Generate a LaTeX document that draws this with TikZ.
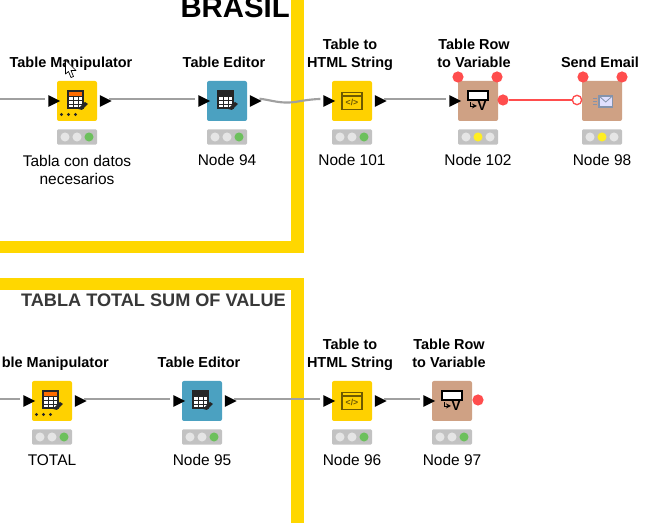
\documentclass[tikz,border=0pt]{standalone}
\usepackage{fontspec}
\setmainfont{Liberation Sans}
\usetikzlibrary{shapes.geometric,positioning}
\definecolor{frameyellow}{HTML}{FFD700}
\definecolor{manipyellow}{HTML}{FFD100}
\definecolor{editorblue}{HTML}{4BA1C1}
\definecolor{varbrown}{HTML}{CFA184}
\definecolor{flowred}{HTML}{FF4D4D}
\definecolor{wiregray}{HTML}{A0A0A0}
\definecolor{lightgreen}{HTML}{6CC05C}
\definecolor{lightyellow}{HTML}{FFEE22}
\definecolor{htmlgold}{HTML}{6E5A00}
\definecolor{mailblue}{HTML}{8493AC}
% traffic light bar under a node: name, x, y, three colours
\newcommand{\statusbar}[6]{
    \node[statusbox] (#1) at (#2,#3) {};
    \node[lamp, fill=#4] (#1a) at (#2-12,#3) {};
    \node[lamp, fill=#5] (#1b) at (#2,#3) {};
    \node[lamp, fill=#6] (#1c) at (#2+12,#3) {};
}
% table glyph with pen, centred on x,y
\newcommand{\tableglyph}[3]{
    \fill[white] (#1-7,#2-9) rectangle (#1+8,#2+8);
    \fill[#3] (#1-7,#2-9) rectangle (#1+8,#2-4);
    \draw[black!85, line width=0.8pt] (#1-7,#2-9) rectangle (#1+8,#2+8);
    \draw[black!85, line width=0.3pt] (#1-7,#2-4) -- (#1+8,#2-4) (#1-7,#2) -- (#1+8,#2) (#1-7,#2+4) -- (#1+8,#2+4)
        (#1-2,#2-4) -- (#1-2,#2+8) (#1+3,#2-4) -- (#1+3,#2+8);
    \fill[black!85] (#1+3,#2+9) -- (#1+10,#2+2) -- (#1+13,#2+4) -- (#1+7,#2+10) -- cycle;
}
% window glyph with a code tag
\newcommand{\htmlglyph}[2]{
    \draw[htmlgold, line width=0.8pt] (#1-10,#2-8.5) rectangle (#1+10,#2+8.5);
    \draw[htmlgold, line width=0.8pt] (#1-10,#2-5) -- (#1+10,#2-5);
    \node[font=\fontsize{6.5}{6.5}\selectfont\bfseries, text=htmlgold, inner sep=0pt] at (#1,#2+1.5) {</>};
}
% row to variable glyph
\newcommand{\rowvarglyph}[2]{
    \draw[black, fill=white, line width=0.9pt] (#1-10,#2-8) rectangle (#1+10,#2+1);
    \draw[black, line width=0.7pt, ->, >=stealth] (#1-8,#2+3) -- (#1-8,#2+7) -- (#1-1,#2+7);
    \node[font=\fontsize{10}{10}\selectfont\bfseries, inner sep=0pt] at (#1+4,#2+6.5) {V};
}

\begin{document}
\begin{tikzpicture}[
    x=0.75pt, y=-0.75pt,
    nodebox/.style={rectangle, rounded corners=1.5pt, minimum size=30pt, inner sep=0pt},
    statusbox/.style={rectangle, rounded corners=1pt, fill=black!24, minimum width=30pt, minimum height=11.5pt, inner sep=0pt},
    lamp/.style={circle, minimum size=6.8pt, inner sep=0pt},
    inport/.style={isosceles triangle, isosceles triangle apex angle=60, isosceles triangle stretches, fill=black, minimum width=8.8pt, minimum height=8.8pt, inner sep=0pt},
    flowport/.style={circle, fill=flowred, minimum size=8.4pt, inner sep=0pt},
    wire/.style={wiregray, line width=1.6pt, shorten >=2pt, shorten <=-2pt},
    title/.style={font=\fontsize{10.85}{14.2}\selectfont\bfseries, align=center, anchor=base, inner sep=0pt},
    caption/.style={font=\fontsize{11.6}{14.2}\selectfont, align=center, anchor=base, inner sep=0pt}
]
    \useasboundingbox (0,0) rectangle (668,523);
    \fill[white] (0,0) rectangle (668,523);

    % yellow frames
    \fill[frameyellow] (0,241) rectangle (304,253);
    \fill[frameyellow] (291,0) rectangle (304,253);
    \fill[frameyellow] (0,278) rectangle (304,290);
    \fill[frameyellow] (291,278) rectangle (304,523);

    \node[font=\fontsize{22}{22}\selectfont\bfseries, anchor=base east, inner sep=0pt] (brasil) at (290,18) {BRASIL};
    \node[font=\fontsize{13.6}{14}\selectfont\bfseries, text=black!78, anchor=base east, inner sep=0pt] (tablatotal) at (286,307) {TABLA TOTAL SUM OF VALUE};

    % top row
    \node[nodebox, fill=manipyellow] (manip1) at (77,101) {};
    \node[nodebox, fill=editorblue] (editor1) at (227,101) {};
    \node[nodebox, fill=manipyellow] (html1) at (352,101) {};
    \node[nodebox, fill=varbrown] (rowvar1) at (478,101) {};
    \node[nodebox, fill=varbrown] (email1) at (602,101) {};

    % bottom row
    \node[nodebox, fill=manipyellow] (manip2) at (52,401) {};
    \node[nodebox, fill=editorblue] (editor2) at (202,401) {};
    \node[nodebox, fill=manipyellow] (html2) at (352,401) {};
    \node[nodebox, fill=varbrown] (rowvar2) at (452,401) {};

    % ports
    \foreach \name/\x/\y in {manip1/77/101, editor1/227/101, html1/352/101, manip2/52/401, editor2/202/401, html2/352/401} {
        \node[inport] (\name in) at (\x-25,\y) {};
        \node[inport] (\name out) at (\x+26.5,\y) {};
    }
    \node[inport] (rowvar1in) at (453,101) {};
    \node[inport] (rowvar2in) at (427,401) {};

    \coordinate (stub1) at (0,99);
    \coordinate (stub2) at (0,399);
    \draw[wire, shorten <=0pt] (stub1) -- (manip1in.west |- stub1);
    \draw[wire] (manip1out.east |- stub1) -- (editor1in.west |- stub1);
    \draw[wire] (editor1out.east |- stub1) .. controls (271,100) and (280,104) .. (295,102) .. controls (306,100) and (315,99) .. (html1in.west |- stub1);
    \draw[wire] (html1out.east |- stub1) -- (rowvar1in.west |- stub1);
    \draw[wire, shorten <=0pt] (stub2) -- (manip2in.west |- stub2);
    \draw[wire] (manip2out.east |- stub2) -- (editor2in.west |- stub2);
    \draw[wire] (editor2out.east |- stub2) -- (html2in.west |- stub2);
    \draw[wire] (html2out.east |- stub2) -- (rowvar2in.west |- stub2);

    % flow variable ports
    \node[flowport] (rowvar1a) at (458,77) {};
    \node[flowport] (rowvar1b) at (497,77) {};
    \node[flowport] (rowvar1out) at (503,100) {};
    \node[flowport] (email1a) at (583,77) {};
    \node[flowport] (email1b) at (622,77) {};
    \node[flowport] (rowvar2out) at (478,400) {};
    \node[circle, draw=flowred, fill=white, line width=1pt, minimum size=7pt, inner sep=0pt] (email1in) at (577,100) {};
    \draw[flowred, line width=1.5pt] (rowvar1out) -- (email1in);

    % icons
    \tableglyph{75}{100}{orange!85!red}
    \foreach \i in {61.5,68.5,75.5} \fill[black!85] (\i,114.5) circle (1.7);
    \tableglyph{225}{100}{black!85}
    \htmlglyph{352}{101}
    \rowvarglyph{478}{99}
    \tableglyph{50}{400}{orange!85!red}
    \foreach \i in {36.5,43.5,50.5} \fill[black!85] (\i,414.5) circle (1.7);
    \tableglyph{200}{400}{black!85}
    \htmlglyph{352}{401}
    \rowvarglyph{452}{399}
    % envelope
    \draw[mailblue, fill=white!88!blue, line width=0.8pt] (599,96) rectangle (612.5,107);
    \draw[mailblue, line width=0.6pt] (599,96) -- (605.7,102) -- (612.5,96);
    \draw[mailblue, line width=0.7pt] (593,98) -- (597,98) (593,101) -- (597,101) (593,104) -- (597,104);

    % traffic lights
    \statusbar{status1}{77}{137}{black!10}{black!10}{lightgreen}
    \statusbar{status2}{227}{137}{black!10}{black!10}{lightgreen}
    \statusbar{status3}{352}{137}{black!10}{black!10}{lightgreen}
    \statusbar{status4}{478}{137}{black!10}{lightyellow}{black!10}
    \statusbar{status5}{602}{137}{black!10}{lightyellow}{black!10}
    \statusbar{status6}{52}{437}{black!10}{black!10}{lightgreen}
    \statusbar{status7}{202}{437}{black!10}{black!10}{lightgreen}
    \statusbar{status8}{352}{437}{black!10}{black!10}{lightgreen}
    \statusbar{status9}{452}{437}{black!10}{black!10}{lightgreen}

    % titles
    \node[title] (title1) at (71,68) {Table Manipulator};
    \node[title] (title2) at (224,68) {Table Editor};
    \node[title] (title3) at (350,68) {Table to\\HTML String};
    \node[title] (title4) at (474,68) {Table Row\\to Variable};
    \node[title] (title5) at (600,68) {Send Email};
    \node[title, anchor=base east] (title6) at (109,368) {ble Manipulator};
    \node[title] (title7) at (199,368) {Table Editor};
    \node[title] (title8) at (350,368) {Table to\\HTML String};
    \node[title] (title9) at (449,368) {Table Row\\to Variable};

    % captions
    \node[caption] (caption1) at (77,185) {Tabla con datos\\necesarios};
    \node[caption] (caption2) at (227,166) {Node 94};
    \node[caption] (caption3) at (352,166) {Node 101};
    \node[caption] (caption4) at (478,166) {Node 102};
    \node[caption] (caption5) at (602,166) {Node 98};
    \node[caption] (caption6) at (52,466) {TOTAL};
    \node[caption] (caption7) at (202,466) {Node 95};
    \node[caption] (caption8) at (352,466) {Node 96};
    \node[caption] (caption9) at (452,466) {Node 97};

    % mouse pointer
    \draw[black, fill=white, line width=0.5pt, line join=round] (65.5,60) -- (65.5,74) -- (68.5,71.5) -- (71,77.5) -- (73.5,76.5) -- (71,70.5) -- (76,70.5) -- cycle;
\end{tikzpicture}
\end{document}
